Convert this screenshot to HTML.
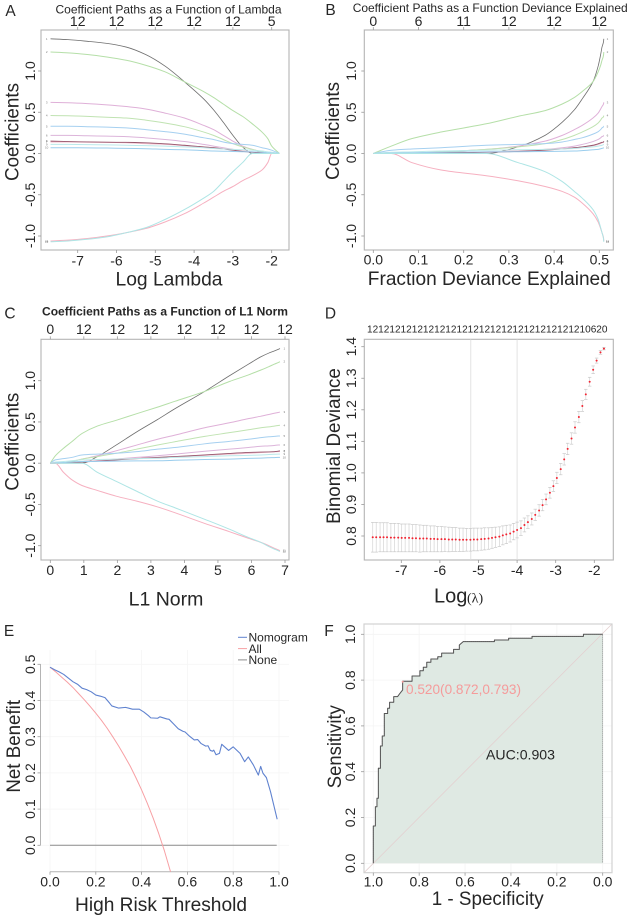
<!DOCTYPE html>
<html lang="en">
<head>
<meta charset="utf-8">
<title>LASSO, DCA and ROC panels</title>
<style>
html,body{margin:0;padding:0;background:#fff}
svg{display:block;filter:blur(0.3px)}
text{font-family:"Liberation Sans",Arial,sans-serif;fill:#262626}
</style>
</head>
<body>
<svg id="fig" width="632" height="919" viewBox="0 0 632 919" xmlns="http://www.w3.org/2000/svg">
<defs>
<clipPath id="clipE"><rect x="40" y="650" width="252" height="221.7"/></clipPath>
<clipPath id="clipF"><rect x="364" y="624" width="248" height="248.7"/></clipPath>
</defs>
<g id="panelA"></g>
<g id="panelB"></g>
<g id="panelC"></g>
<g id="panelD"></g>
<g id="panelE"></g>
<g id="panelF"></g>
</svg>
<script>
// ---- shared coefficient path data (panels A, B, C) ----
const logLambdaGrid = [-7.7,-7.25,-6.75,-6.25,-5.75,-5.25,-4.75,-4.25,-3.75,-3.5,-3.25,-3,-2.75,-2.5,-2.25,-2.1,-2,-1.8];
const devFraction = [0.51,0.5098,0.5095,0.5085,0.506,0.503,0.4975,0.486,0.462,0.445,0.418,0.38,0.32,0.25,0.15,0.085,0.04,0];
const coefGray = [1.39,1.38,1.36,1.335,1.29,1.20,1.06,0.87,0.66,0.53,0.38,0.22,0.08,0,0,0,0,0];
const coefGreenA = [1.23,1.22,1.20,1.17,1.13,1.07,0.99,0.87,0.75,0.68,0.60,0.52,0.45,0.36,0.26,0.18,0.09,0];
const coefPink = [0.62,0.615,0.605,0.59,0.57,0.54,0.49,0.43,0.34,0.29,0.22,0.15,0.09,0.05,0.02,0.005,0,0];
const coefGreenB = [0.46,0.457,0.45,0.44,0.43,0.405,0.37,0.325,0.26,0.22,0.17,0.12,0.08,0.05,0.02,0.005,0,0];
const coefBlueA = [0.33,0.33,0.325,0.32,0.31,0.29,0.265,0.235,0.19,0.17,0.14,0.12,0.11,0.10,0.07,0.055,0.04,0];
const coefPurple = [0.22,0.22,0.215,0.21,0.205,0.19,0.17,0.145,0.11,0.09,0.07,0.05,0.03,0.02,0.01,0.003,0,0];
const coefMaroon = [0.15,0.145,0.14,0.137,0.135,0.13,0.118,0.10,0.08,0.07,0.055,0.04,0.025,0.015,0.005,0.002,0,0];
const coefRose = [0.14,0.14,0.138,0.135,0.13,0.12,0.11,0.095,0.08,0.07,0.06,0.05,0.03,0.02,0.01,0.003,0,0];
const coefCyanA = [0.11,0.11,0.108,0.105,0.10,0.095,0.09,0.08,0.07,0.06,0.055,0.05,0.045,0.04,0.03,0.02,0.015,0];
const coefBlueB = [0.07,0.07,0.068,0.066,0.062,0.058,0.05,0.045,0.035,0.03,0.028,0.025,0.022,0.02,0.015,0.008,0.005,0];
const coefCyanB = [-1.07,-1.06,-1.04,-1.01,-0.96,-0.90,-0.80,-0.68,-0.54,-0.46,-0.34,-0.22,-0.11,0,0,0,0,0];
const coefRed = [-1.06,-1.05,-1.03,-1.00,-0.96,-0.91,-0.83,-0.73,-0.60,-0.53,-0.46,-0.40,-0.33,-0.27,-0.20,-0.11,0,0];
const coefTicks = [-1,-0.5,0,0.5,1];
const coefTickLabels = ["-1.0","-0.5","0.0","0.5","1.0"];
const lambdaTicks = [-7,-6,-5,-4,-3,-2];
const lambdaTopCounts = ["12","12","12","12","12","5"];
const devTicks = [0,0.1,0.2,0.3,0.4,0.5];
const devTickLabels = ["0.0","0.1","0.2","0.3","0.4","0.5"];
const devTopCounts = ["0","6","11","12","12","12"];
const l1Ticks = [0,1,2,3,4,5,6,7];
const l1TopCounts = ["0","12","12","12","12","12","12","12"];

// ---- panel D data ----
const cvLambda = [-1.75,-1.84,-1.94,-2.03,-2.12,-2.22,-2.31,-2.40,-2.50,-2.59,-2.69,-2.78,-2.87,-2.97,-3.06,-3.15,-3.25,-3.34,-3.43,-3.53,-3.62,-3.72,-3.81,-3.90,-4.00,-4.09,-4.18,-4.28,-4.37,-4.46,-4.56,-4.65,-4.74,-4.84,-4.93,-5.03,-5.12,-5.21,-5.31,-5.40,-5.49,-5.59,-5.68,-5.77,-5.87,-5.96,-6.06,-6.15,-6.24,-6.34,-6.43,-6.52,-6.62,-6.71,-6.80,-6.90,-6.99,-7.08,-7.18,-7.27,-7.37,-7.46,-7.55,-7.65,-7.74];
const cvDeviance = [1.394,1.382,1.356,1.327,1.289,1.249,1.212,1.177,1.144,1.109,1.076,1.043,1.012,0.984,0.958,0.937,0.916,0.898,0.881,0.867,0.854,0.844,0.835,0.825,0.819,0.814,0.808,0.805,0.802,0.798,0.796,0.794,0.792,0.791,0.790,0.789,0.789,0.788,0.788,0.788,0.788,0.789,0.789,0.789,0.790,0.790,0.790,0.791,0.791,0.792,0.792,0.792,0.793,0.793,0.794,0.794,0.794,0.795,0.795,0.795,0.796,0.796,0.796,0.796,0.796];
const cvError = [0.004,0.006,0.008,0.012,0.014,0.016,0.017,0.018,0.018,0.018,0.018,0.018,0.018,0.018,0.017,0.017,0.017,0.018,0.018,0.018,0.019,0.020,0.022,0.023,0.025,0.026,0.027,0.029,0.030,0.031,0.032,0.033,0.034,0.035,0.035,0.036,0.036,0.036,0.036,0.037,0.037,0.038,0.038,0.039,0.039,0.040,0.040,0.041,0.041,0.042,0.042,0.043,0.043,0.043,0.044,0.044,0.044,0.045,0.045,0.045,0.046,0.046,0.046,0.047,0.047];
const cvCounts = ["12","12","12","12","12","12","12","12","12","12","12","12","12","12","12","12","12","12","12","10","6","2","0"];
const cvVLines = [-5.2,-4.0];
const cvYTicks = [0.8,0.9,1.0,1.1,1.2,1.3,1.4];
const cvYTickLabels = ["0.8","0.9","1.0","1.1","1.2","1.3","1.4"];

// ---- panel E data ----
const dcaThreshold = [0,0.02,0.04,0.06,0.08,0.10,0.12,0.14,0.16,0.18,0.20,0.22,0.24,0.26,0.27,0.30,0.33,0.36,0.39,0.41,0.43,0.44,0.47,0.48,0.51,0.52,0.54,0.56,0.58,0.59,0.61,0.63,0.645,0.66,0.68,0.69,0.70,0.71,0.715,0.725,0.74,0.75,0.78,0.80,0.83,0.85,0.866,0.888,0.91,0.92,0.93,0.945,0.963,0.992];
const dcaNomogram = [0.492,0.485,0.479,0.472,0.462,0.452,0.445,0.434,0.430,0.424,0.415,0.412,0.408,0.393,0.385,0.379,0.381,0.376,0.376,0.368,0.358,0.352,0.351,0.355,0.349,0.348,0.335,0.322,0.315,0.313,0.301,0.291,0.292,0.281,0.274,0.275,0.262,0.260,0.263,0.250,0.254,0.279,0.262,0.272,0.254,0.231,0.244,0.222,0.194,0.218,0.199,0.187,0.148,0.072];
const allThreshold = [0,0.025,0.05,0.075,0.1,0.125,0.15,0.175,0.2,0.225,0.25,0.275,0.3,0.325,0.35,0.375,0.4,0.425,0.45,0.475,0.5,0.53];
const allBenefit = [0.492,0.479,0.465,0.451,0.436,0.419,0.402,0.384,0.365,0.345,0.323,0.299,0.274,0.247,0.219,0.187,0.153,0.116,0.076,0.032,-0.016,-0.081];
const noneThreshold = [0,0.99];
const noneBenefit = [0,0];
const dcaXTicks = [0,0.2,0.4,0.6,0.8,1];
const dcaXLabels = ["0.0","0.2","0.4","0.6","0.8","1.0"];
const dcaYTicks = [0,0.1,0.2,0.3,0.4,0.5];
const dcaYLabels = ["0.0","0.1","0.2","0.3","0.4","0.5"];
const dcaLegend = ["Nomogram","All","None"];

// ---- panel F data (staircase vertices) ----
const rocSpecificity = [1,1,0.991,0.991,0.984,0.984,0.978,0.978,0.969,0.969,0.961,0.961,0.952,0.952,0.9375,0.9375,0.929,0.929,0.911,0.911,0.894,0.884,0.872,0.872,0.831,0.831,0.797,0.797,0.782,0.782,0.767,0.767,0.749,0.749,0.719,0.719,0.702,0.702,0.650,0.650,0.625,0.625,0.608,0.472,0.472,0.410,0.410,0.308,0.308,0.084,0.084,0];
const rocSensitivity = [0,0.163,0.163,0.247,0.247,0.284,0.284,0.415,0.415,0.512,0.512,0.556,0.556,0.654,0.654,0.677,0.677,0.703,0.703,0.728,0.728,0.742,0.757,0.795,0.795,0.818,0.818,0.841,0.841,0.856,0.856,0.878,0.878,0.892,0.892,0.902,0.902,0.918,0.918,0.934,0.934,0.953,0.968,0.968,0.975,0.975,0.983,0.983,0.991,0.991,1,1];
const rocTicks = [1,0.8,0.6,0.4,0.2,0];
const rocTickLabels = ["1.0","0.8","0.6","0.4","0.2","0.0"];
const rocBest = [0.872,0.793];

// ---- helpers ----
const NS = "http://www.w3.org/2000/svg";
function scale(v0, p0, v1, p1) { return v => p0 + (v - v0) * (p1 - p0) / (v1 - v0); }
function mk(parent, tag, props) {
  const el = document.createElementNS(NS, tag);
  for (const k in props) el.setAttribute(k, props[k]);
  parent.appendChild(el);
  return el;
}
function line(parent, name, x1, y1, x2, y2, stroke, w, dash) {
  const el = mk(parent, "line", {x1, y1, x2, y2, stroke, "stroke-width": w || 1});
  if (dash) el.setAttribute("stroke-dasharray", dash);
  
  
  return el;
}
function rect(parent, name, x, y, w, h, fill, stroke, sw) {
  const el = mk(parent, "rect", {x, y, width: w, height: h, fill, stroke: stroke || "none", "stroke-width": sw || 1});
  
  
  return el;
}
function poly(parent, name, xs, ys, fx, fy, stroke, w, fill, clip) {
  const pts = xs.map((x, i) => fx(x).toFixed(2) + "," + fy(ys[i]).toFixed(2)).join(" ");
  const el = mk(parent, "polyline", {points: pts, fill: fill || "none", stroke, "stroke-width": w, "stroke-linejoin": "round"});
  if (clip) el.setAttribute("clip-path", clip);
  
  
  return el;
}
// Monotone cubic path through pixel points (keeps kinks from overshooting)
function smoothD(px, py) {
  const n = px.length, d = [], m = [];
  for (let i = 0; i < n - 1; i++) {
    const dx = px[i + 1] - px[i];
    d[i] = Math.abs(dx) < 1e-6 ? 0 : (py[i + 1] - py[i]) / dx;
  }
  m[0] = d[0];
  m[n - 1] = d[n - 2];
  for (let i = 1; i < n - 1; i++) {
    m[i] = d[i - 1] * d[i] <= 0 ? 0 : 2 * d[i - 1] * d[i] / (d[i - 1] + d[i]);
  }
  let s = "M" + px[0].toFixed(2) + " " + py[0].toFixed(2);
  for (let i = 0; i < n - 1; i++) {
    const h = (px[i + 1] - px[i]) / 3;
    s += "C" + (px[i] + h).toFixed(2) + " " + (py[i] + m[i] * h).toFixed(2) + " " +
      (px[i + 1] - h).toFixed(2) + " " + (py[i + 1] - m[i + 1] * h).toFixed(2) + " " +
      px[i + 1].toFixed(2) + " " + py[i + 1].toFixed(2);
  }
  return s;
}
function curve(parent, name, xs, ys, fx, fy, stroke, w) {
  const el = mk(parent, "path", {d: smoothD(xs.map(fx), ys.map(fy)), fill: "none", stroke, "stroke-width": w});
  
  
  return el;
}
function txt(parent, name, s, x, y, size, o) {
  o = o || {};
  const el = mk(parent, "text", {x, y, "font-size": size, "text-anchor": o.anchor || "middle"});
  if (o.rot) el.setAttribute("transform", "rotate(-90 " + x + " " + y + ")");
  if (o.len) { el.setAttribute("textLength", o.len); el.setAttribute("lengthAdjust", "spacingAndGlyphs"); }
  if (o.weight) el.setAttribute("font-weight", o.weight);
  if (o.fill) el.style.fill = o.fill;
  el.textContent = s;
  
  
  return el;
}
const AXC = "#b4b4b4", TICK = 14;

function xTicks(g, vals, labels, fx, yAxis, yLabel, prefix) {
  vals.forEach((v, i) => {
    line(g, prefix + "-tick", fx(v), yAxis, fx(v), yAxis + 3, "#999", 0.8);
    txt(g, prefix + "-tick-label", labels[i], fx(v), yLabel, TICK);
  });
}
function topTicks(g, vals, labels, fx, yAxis, yLabel) {
  vals.forEach((v, i) => {
    line(g, "top-axis-tick", fx(v), yAxis, fx(v), yAxis - 3, "#999", 0.8);
    txt(g, "top-axis-count-label", labels[i], fx(v), yLabel, TICK);
  });
}
function yTicks(g, vals, labels, fy, xAxis, xLabel, prefix) {
  vals.forEach((v, i) => {
    line(g, prefix + "-tick", xAxis, fy(v), xAxis - 3, fy(v), "#999", 0.8);
    txt(g, prefix + "-tick-label", labels[i], xLabel, fy(v), TICK, {rot: true});
  });
}

const paths = [
  ["gray", coefGray, "#6e6e6e", 0.8],
  ["green-a", coefGreenA, "#b5dfa8", 1],
  ["pink", coefPink, "#dfb0d8", 1],
  ["green-b", coefGreenB, "#c0e3b2", 1],
  ["blue-a", coefBlueA, "#a6d0f0", 1],
  ["purple", coefPurple, "#dcb4da", 1],
  ["rose", coefRose, "#f0bccb", 1],
  ["maroon", coefMaroon, "#96566c", 0.9],
  ["cyan-a", coefCyanA, "#bce9ea", 1],
  ["blue-b", coefBlueB, "#9acded", 1],
  ["red", coefRed, "#f6b0c0", 1],
  ["cyan-b", coefCyanB, "#aee5e5", 1]
];
const l1Norm = logLambdaGrid.map((_, i) => paths.reduce((s, p) => s + Math.abs(p[1][i]), 0));

function coefPanel(g, xData, fx, fy, labelX) {
  paths.forEach((p, idx) => {
    curve(g, "coef-path-" + p[0], xData, p[1], fx, fy, p[2], p[3]);
    txt(g, "coef-end-label", String(idx + 1), labelX, fy(p[1][0]) + 1, 3, {fill: "#777"});
  });
}

// ---- Panel A ----
(function () {
  const g = document.getElementById("panelA");
  const fx = scale(-7, 77.7, -2, 271.7), fy = scale(-1, 236, 1, 71);
  rect(g, "plot-box", 41, 30, 248, 220, "#fff", AXC, 1.1);
  coefPanel(g, logLambdaGrid, fx, fy, 46.7);
  xTicks(g, lambdaTicks, lambdaTicks.map(String), fx, 250, 265.7, "x-axis");
  topTicks(g, lambdaTicks, lambdaTopCounts, fx, 30, 26);
  yTicks(g, coefTicks, coefTickLabels, fy, 41, 35, "y-axis");
  txt(g, "panel-label-a", "A", 10.5, 16, 15.5);
  txt(g, "chart-title", "Coefficient Paths as a Function of Lambda", 168.5, 13.3, 12, {len: 226});
  txt(g, "x-axis-title", "Log Lambda", 169, 285.7, 19.5, {len: 107});
  txt(g, "y-axis-title", "Coefficients", 18.5, 132, 19.5, {rot: true, len: 98});
})();

// ---- Panel B ----
(function () {
  const g = document.getElementById("panelB");
  const fx = scale(0, 373.3, 0.5, 599.3), fy = scale(-1, 236, 1, 71);
  rect(g, "plot-box", 364.3, 30, 249, 220, "#fff", AXC, 1.1);
  coefPanel(g, devFraction, fx, fy, 607.5);
  xTicks(g, devTicks, devTickLabels, fx, 250, 264.5, "x-axis");
  topTicks(g, devTicks, devTopCounts, fx, 30, 26);
  yTicks(g, coefTicks, coefTickLabels, fy, 364.3, 356, "y-axis");
  txt(g, "panel-label-b", "B", 330.5, 15, 15.5);
  txt(g, "chart-title", "Coefficient Paths as a Function Deviance Explained", 490.2, 12, 12, {len: 275});
  txt(g, "x-axis-title", "Fraction Deviance Explained", 489.3, 285, 19.5, {len: 243});
  txt(g, "y-axis-title", "Coefficients", 339, 131, 19.5, {rot: true, len: 98});
})();

// ---- Panel C ----
(function () {
  const g = document.getElementById("panelC");
  const fx = scale(0, 50.3, 7, 285), fy = scale(-1, 545.7, 1, 380.7);
  rect(g, "plot-box", 41, 339.3, 248, 220.7, "#fff", AXC, 1.1);
  coefPanel(g, l1Norm, fx, fy, 284.3);
  xTicks(g, l1Ticks, l1Ticks.map(String), fx, 560, 575, "x-axis");
  topTicks(g, l1Ticks, l1TopCounts, fx, 339.3, 334);
  yTicks(g, coefTicks, coefTickLabels, fy, 41, 35, "y-axis");
  txt(g, "panel-label-c", "C", 10, 318.3, 15.5);
  txt(g, "chart-title", "Coefficient Paths as a Function of L1 Norm", 165, 315.7, 11.5, {len: 246, weight: "bold"});
  txt(g, "x-axis-title", "L1 Norm", 166, 605.7, 19.5);
  txt(g, "y-axis-title", "Coefficients", 18.5, 441.7, 19.5, {rot: true, len: 98});
})();

// ---- Panel D ----
(function () {
  const g = document.getElementById("panelD");
  const fx = scale(-7, 401.3, -2, 594.3), fy = scale(0.8, 536, 1.4, 346.7);
  rect(g, "plot-box", 364.3, 339.3, 249, 220.7, "#fff", AXC, 1.1);
  cvVLines.forEach(v => line(g, "lambda-reference-line", fx(v), 339.3, fx(v), 560, "#dcdcdc", 0.8));
  cvLambda.forEach((v, i) => {
    const x = fx(v), yU = fy(cvDeviance[i] + cvError[i]), yL = fy(cvDeviance[i] - cvError[i]);
    line(g, "error-bar", x, yU, x, yL, "#d4d4d4", 0.7);
    line(g, "error-cap-upper", x - 1.7, yU, x + 1.7, yU, "#c8c8c8", 0.7);
    line(g, "error-cap-lower", x - 1.7, yL, x + 1.7, yL, "#c8c8c8", 0.7);
  });
  cvLambda.forEach((v, i) => {
    const el = mk(g, "circle", {cx: fx(v), cy: fy(cvDeviance[i]), r: 1, fill: "#f2222f"});
    
    
  });
  txt(g, "top-axis-count-labels", cvCounts.join(""), 367, 332.7, 10.2, {anchor: "start", len: 240.5});
  xTicks(g, lambdaTicks, lambdaTicks.map(String), fx, 560, 575, "x-axis");
  yTicks(g, cvYTicks, cvYTickLabels, fy, 364.3, 356, "y-axis");
  txt(g, "panel-label-d", "D", 330.5, 318.3, 15.5);
  txt(g, "y-axis-title", "Binomial Deviance", 340, 446, 19.5, {rot: true, len: 155.7});
  txt(g, "x-axis-title", "Log", 434, 602.7, 20, {anchor: "start"});
  const t2 = txt(g, "x-axis-title-lambda", "(λ)", 467, 602.7, 14, {anchor: "start"});
  t2.style.fontFamily = '"Liberation Serif",serif';
})();

// ---- Panel E ----
(function () {
  const g = document.getElementById("panelE");
  const fx = scale(0, 50, 1, 279), fy = scale(0, 845.3, 0.5, 664.3);
  dcaXTicks.forEach(v => line(g, "grid-line-vertical", fx(v), 650, fx(v), 871.7, "#f5f5f5", 0.8));
  dcaYTicks.forEach(v => line(g, "grid-line-horizontal", 40, fy(v), 289, fy(v), "#f5f5f5", 0.8));
  line(g, "x-axis-line", fx(0), 871.7, fx(1), 871.7, AXC, 1);
  line(g, "y-axis-line", 40.5, fy(0.5), 40.5, fy(0), AXC, 1);
  poly(g, "line-none", noneThreshold, noneBenefit, fx, fy, "#8c8c8c", 1);
  poly(g, "line-all", allThreshold, allBenefit, fx, fy, "#f7a0a4", 1, "none", "url(#clipE)");
  poly(g, "line-nomogram", dcaThreshold, dcaNomogram, fx, fy, "#5f82cf", 1.1);
  xTicks(g, dcaXTicks, dcaXLabels, fx, 871.7, 886.7, "x-axis");
  yTicks(g, dcaYTicks, dcaYLabels, fy, 40.5, 35, "y-axis");
  const legendColors = ["#5f82cf", "#f7a0a4", "#8c8c8c"];
  dcaLegend.forEach((s, i) => {
    const y = 637.3 + i * 11.3;
    line(g, "legend-swatch-" + s.toLowerCase(), 238, y, 247, y, legendColors[i], 1);
    txt(g, "legend-label-" + s.toLowerCase(), s, 248.5, y + 4.3, 12, {anchor: "start"});
  });
  txt(g, "panel-label-e", "E", 9, 636, 15.5);
  txt(g, "x-axis-title", "High Risk Threshold", 161, 911, 19.5, {len: 172});
  txt(g, "y-axis-title", "Net Benefit", 20, 746.3, 19.5, {rot: true, len: 92.7});
})();

// ---- Panel F ----
(function () {
  const g = document.getElementById("panelF");
  const fx = scale(1, 373.3, 0, 602.7), fy = scale(0, 863.3, 1, 634.3);
  rocTicks.forEach(v => {
    line(g, "grid-line-vertical", fx(v), 624, fx(v), 872.7, "#f4f4f4", 0.8);
    line(g, "grid-line-horizontal", 364, fy(v), 612, fy(v), "#f4f4f4", 0.8);
  });
  const shadeX = rocSpecificity.concat([0]);
  const shadeY = rocSensitivity.concat([0]);
  const shade = poly(g, "auc-shaded-area", shadeX, shadeY, fx, fy, "#666", 0.7, "#dfe9e3");
  shade.setAttribute("stroke-dasharray", "1 1");
  line(g, "diagonal-reference", 364, 872.7, 612, 624, "#e3d0d0", 0.8);
  rect(g, "plot-box", 364, 624, 248, 248.7, "none", "#d2d2d2", 1.2);
  poly(g, "roc-curve", rocSpecificity, rocSensitivity, fx, fy, "#555", 1);
  const best = mk(g, "circle", {cx: fx(rocBest[0]), cy: fy(rocBest[1]), r: 1, fill: "#f59b9b"});
  
  
  txt(g, "best-threshold-label", "0.520(0.872,0.793)", 406, 694, 14, {anchor: "start", len: 115, fill: "#f59b9b"});
  txt(g, "auc-label", "AUC:0.903", 486, 759.7, 14, {anchor: "start", len: 69});
  xTicks(g, rocTicks, rocTickLabels, fx, 872.7, 886.7, "x-axis");
  yTicks(g, rocTicks, rocTickLabels, fy, 364, 355, "y-axis");
  txt(g, "panel-label-f", "F", 329, 636, 15.5);
  txt(g, "x-axis-title", "1 - Specificity", 487.7, 905, 19.5, {len: 112});
  txt(g, "y-axis-title", "Sensitivity", 341, 746.7, 19.5, {rot: true, len: 83});
})();
</script>
</body>
</html>
